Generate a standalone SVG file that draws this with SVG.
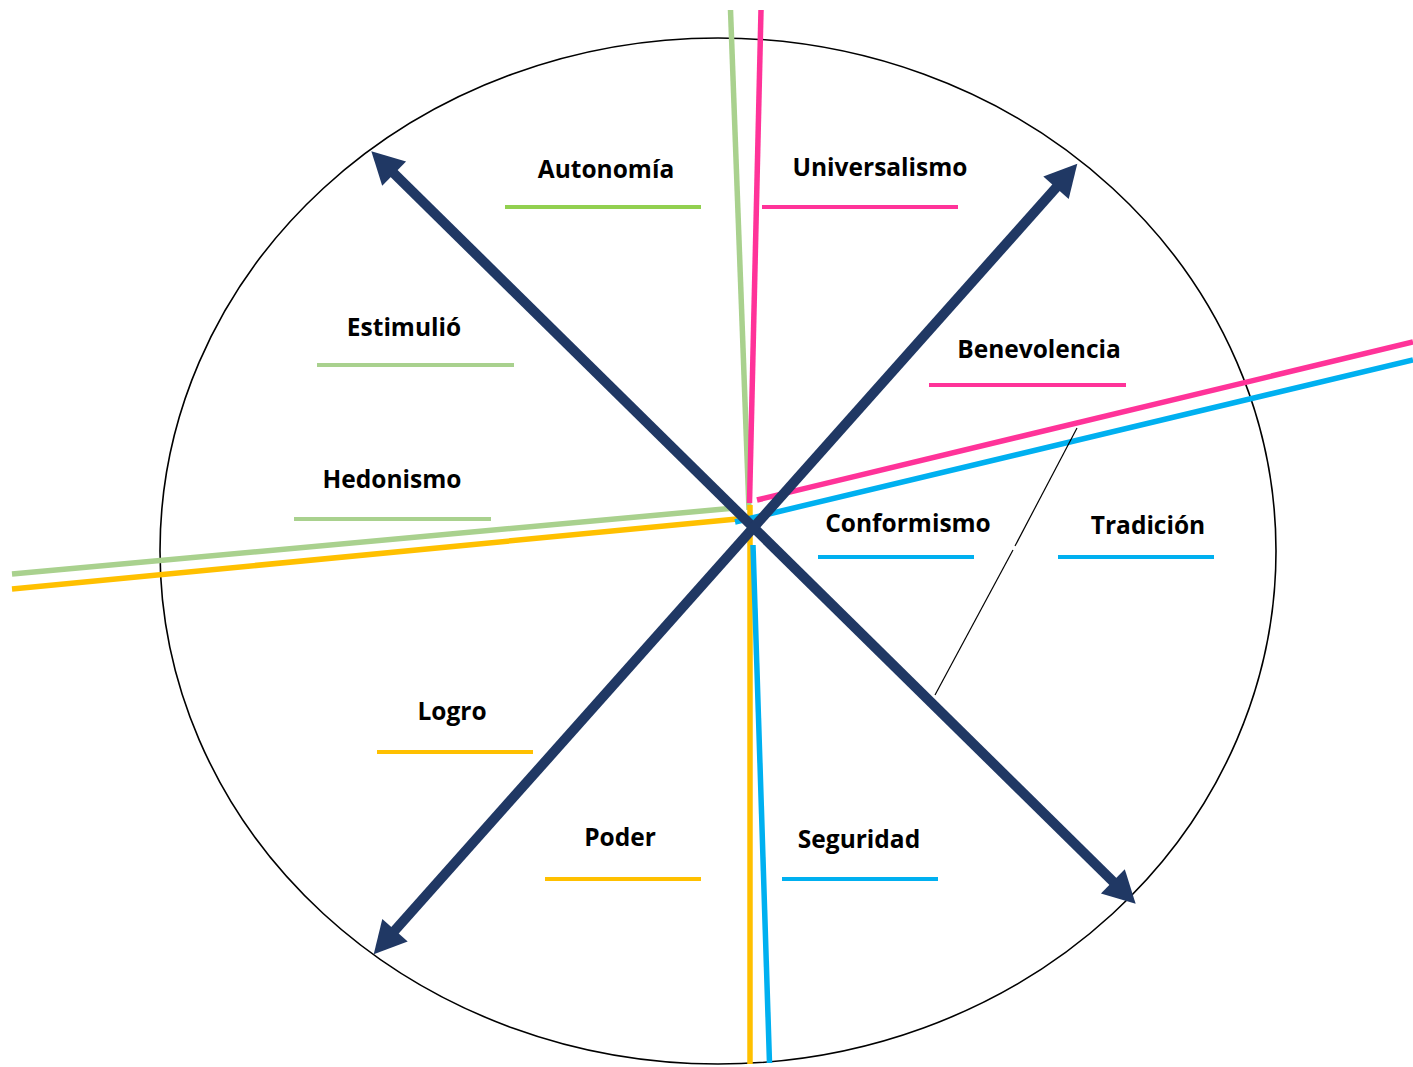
<svg xmlns="http://www.w3.org/2000/svg" width="1413" height="1067" viewBox="0 0 1413 1067">
  <style>
    .lbl { font-family: "Open Sans", "Liberation Sans", sans-serif; font-weight: bold; font-size: 24.5px; fill: #000; text-anchor: middle; }
    .ul { stroke-width: 4; fill: none; }
    .band { stroke-width: 5.5; fill: none; stroke-linecap: butt; }
    .ax { stroke: #203864; stroke-width: 10; fill: none; }
    .lg { stroke: #A9D18E; }
    .g { stroke: #92D050; }
    .p { stroke: #FF3399; }
    .b { stroke: #00B0F0; }
    .y { stroke: #FFC000; }
  </style>
  <defs>
    <marker id="head" markerUnits="userSpaceOnUse" markerWidth="40" markerHeight="40" refX="3" refY="0" viewBox="0 -20 40 40" orient="auto-start-reverse" overflow="visible">
      <path d="M0,-17 L32,0 L0,17 z" fill="#203864"/>
    </marker>
  </defs>
  <rect width="1413" height="1067" fill="#fff"/>
  <ellipse id="circle" cx="718" cy="551" rx="558" ry="513" fill="none" stroke="#000" stroke-width="1.6"/>

  <g id="connectors">
    <line class="band lg" x1="730.5" y1="10" x2="749" y2="510"/>
    <line class="band p" x1="761" y1="10" x2="749.5" y2="503"/>
    <line class="band y" x1="750" y1="505" x2="750" y2="1064"/>
    <line class="band b" x1="753" y1="545" x2="769.5" y2="1063"/>
    <line class="band lg" x1="12" y1="574" x2="735" y2="508"/>
    <line class="band y" x1="12" y1="589" x2="737" y2="519"/>
    <line class="band p" x1="1413" y1="342" x2="757" y2="500"/>
    <line class="band b" x1="1413" y1="360" x2="735" y2="522"/>
    <line x1="1077" y1="428" x2="1015" y2="546" stroke="#000" stroke-width="1.2"/>
    <line x1="1013" y1="550" x2="935" y2="695" stroke="#000" stroke-width="1.2"/>
    <line class="ax" x1="392" y1="171.5" x2="1115" y2="883.5" marker-start="url(#head)" marker-end="url(#head)"/>
    <line class="ax" x1="1058" y1="185.5" x2="393" y2="932.5" marker-start="url(#head)" marker-end="url(#head)"/>
  </g>

  <g id="autonomia">
    <text class="lbl" x="606" y="178">Autonomía</text>
    <line class="ul g" x1="505" y1="207" x2="701" y2="207"/>
  </g>
  <g id="universalismo">
    <text class="lbl" x="880" y="176">Universalismo</text>
    <line class="ul p" x1="762" y1="207" x2="958" y2="207"/>
  </g>
  <g id="estimulio">
    <text class="lbl" x="404" y="336">Estimulió</text>
    <line class="ul lg" x1="317" y1="365" x2="514" y2="365"/>
  </g>
  <g id="benevolencia">
    <text class="lbl" x="1039" y="358">Benevolencia</text>
    <line class="ul p" x1="929" y1="385" x2="1126" y2="385"/>
  </g>
  <g id="hedonismo">
    <text class="lbl" x="392" y="488">Hedonismo</text>
    <line class="ul lg" x1="294" y1="519" x2="491" y2="519"/>
  </g>
  <g id="conformismo">
    <text class="lbl" x="908" y="532">Conformismo</text>
    <line class="ul b" x1="818" y1="557" x2="974" y2="557"/>
  </g>
  <g id="tradicion">
    <text class="lbl" x="1148" y="534">Tradición</text>
    <line class="ul b" x1="1058" y1="557" x2="1214" y2="557"/>
  </g>
  <g id="logro">
    <text class="lbl" x="452" y="720">Logro</text>
    <line class="ul y" x1="377" y1="752" x2="533" y2="752"/>
  </g>
  <g id="poder">
    <text class="lbl" x="620" y="846">Poder</text>
    <line class="ul y" x1="545" y1="879" x2="701" y2="879"/>
  </g>
  <g id="seguridad">
    <text class="lbl" x="859" y="848">Seguridad</text>
    <line class="ul b" x1="782" y1="879" x2="938" y2="879"/>
  </g>
</svg>
